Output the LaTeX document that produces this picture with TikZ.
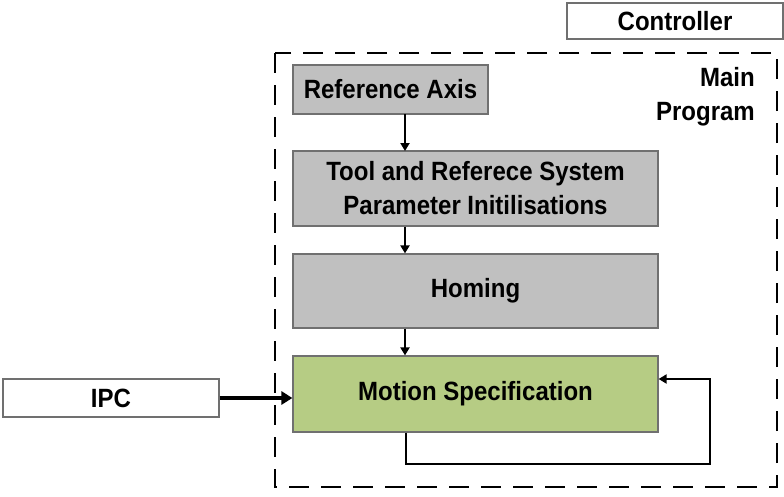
\documentclass[tikz,border=0pt]{standalone}
\usepackage{fontspec}
\setmainfont{Liberation Sans}
\usetikzlibrary{arrows.meta}
\definecolor{boxgray}{HTML}{C0C0C0}
\definecolor{boxgreen}{HTML}{B6CC84}
\definecolor{edgegray}{HTML}{707070}
\newcommand{\vtxt}[1]{\raisebox{-2.5pt}{\scalebox{1}[1.1]{#1}}}
\begin{document}
\begin{tikzpicture}[x=1pt,y=-1pt,
  every node/.style={font=\bfseries\fontsize{24}{34}\selectfont, inner sep=0pt},
  graybox/.style={draw=edgegray, line width=1.2pt, fill=boxgray, align=center},
  greenbox/.style={draw=edgegray, line width=1.2pt, fill=boxgreen, align=center},
  whitebox/.style={draw=edgegray, line width=1.2pt, fill=white, align=center},
  flow/.style={draw=black, line width=2.2pt, -{Triangle[length=8pt,width=9pt]}},
  dashbox/.style={draw=black, line width=2.8pt, dash pattern=on 20pt off 12pt}
]
\useasboundingbox (0,0) rectangle (784,496);
% dashed main program boundary
\draw[dashbox] (275,53) rectangle (777,487);
\node[anchor=east, align=right] (mp) at (755,97) {\vtxt{Main}\\\vtxt{Program}};
% controller
\node[whitebox, minimum width=216pt, minimum height=36pt] (ctrl) at (675,21) {\vtxt{Controller}};
% boxes
\node[graybox, minimum width=195pt, minimum height=49pt] (ref) at (390.5,89.5) {\vtxt{Reference Axis}};
\node[graybox, minimum width=365pt, minimum height=75pt] (tool) at (475.5,188.5) {\vtxt{Tool and Referece System}\\\vtxt{Parameter Initilisations}};
\node[graybox, minimum width=365pt, minimum height=74pt] (hom) at (475.5,291) {\vtxt{Homing}};
\node[greenbox, minimum width=365pt, minimum height=76pt] (mot) at (475.5,394) {\vtxt{Motion Specification}};
\node[whitebox, minimum width=216pt, minimum height=38pt] (ipc) at (111,398) {\vtxt{IPC}};
% connectors
\coordinate (a1) at (405,114);
\coordinate (a2) at (405,151);
\draw[flow] (a1) -- (a2);
\draw[flow] (tool.south -| a1) -- (hom.north -| a1);
\draw[flow] (hom.south -| a1) -- (mot.north -| a1);
\draw[draw=black, line width=4pt, -{Triangle[length=11pt,width=13pt]}] (ipc.east) -- (ipc.east -| mot.west);
\coordinate (l1) at (406,464);
\coordinate (l2) at (710,464);
\coordinate (l3) at (710,379);
\draw[flow] (mot.south -| l1) -- (l1) -- (l2) -- (l3) -- (l3 -| mot.east);
\end{tikzpicture}
\end{document}
